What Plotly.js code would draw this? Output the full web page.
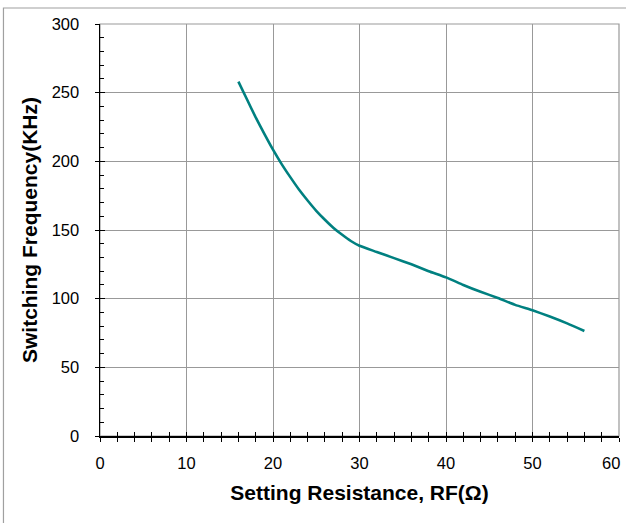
<!DOCTYPE html>
<html>
<head>
<meta charset="utf-8">
<script src="https://cdn.plot.ly/plotly-3.0.1.min.js"></script>
<style>
html,body{margin:0;padding:0;background:#fff;}
#chart{width:626px;height:523px;}
</style>
</head>
<body>
<div id="chart"></div>
<script>
// Setting resistance RF (ohm)
const resistance = [16, 17, 18, 19, 20, 21, 22, 23, 24, 25, 26, 27, 28, 29, 30, 32, 34, 36, 38, 40, 42, 44, 46, 48, 50, 52, 54, 56];
// Switching frequency (KHz)
const frequency = [258, 245, 232, 220, 208.5, 198, 188.5, 179.5, 171.5, 164, 157.5, 151.5, 146.5, 142, 138.5, 134, 129.5, 125, 120, 115.5, 110, 105, 100.5, 95.5, 91.5, 87, 82, 76.5];

// x tick positions and labels
const xTickVals = [0, 10, 20, 30, 40, 50, 60];
const xTickText = ['0', '10', '20', '30', '40', '50', '60'];

const xTitle = 'Setting Resistance, RF(Ω)';
const yTitle = 'Switching Frequency(KHz)';

const font = '"Liberation Sans", Arial, sans-serif';

// the last x label sits at the right edge; it is drawn right-aligned to its tick so it stays inside the picture
const lastIdx = xTickVals.length - 1;
const axisTickText = xTickText.map((t, i) => (i === lastIdx ? '' : t));

const traces = [
  {
    x: resistance, y: frequency, type: 'scatter', mode: 'lines',
    line: {color: '#008080', width: 2.6, shape: 'spline', smoothing: 0.5},
    hoverinfo: 'skip', showlegend: false
  },
  {
    x: [], y: [], xaxis: 'x2', yaxis: 'y2', type: 'scatter', mode: 'lines',
    showlegend: false, hoverinfo: 'skip'
  }
];

const layout = {
  width: 626, height: 523,
  margin: {l: 100, r: 7, t: 24, b: 87},
  paper_bgcolor: '#ffffff', plot_bgcolor: '#ffffff',
  font: {family: font, color: '#000'},
  showlegend: false,
  xaxis: {
    range: [0, 60], tickmode: 'array', tickvals: xTickVals, ticktext: axisTickText,
    showgrid: true, gridcolor: '#999999', gridwidth: 1,
    zeroline: false,
    showline: true, linecolor: '#000', linewidth: 1.5,
    ticks: 'outside', ticklen: 4, tickwidth: 1, tickcolor: '#000',
    minor: {ticks: 'outside', ticklen: 4, tickwidth: 1, tickcolor: '#000', dtick: 2, tick0: 0, showgrid: false},
    tickfont: {size: 16.5, family: font, color: '#000'},
    ticklabelstandoff: 8,
    title: {text: xTitle, font: {size: 21, family: font, color: '#000', weight: 'bold'}, standoff: 14},
    fixedrange: true
  },
  yaxis: {
    range: [0, 300], dtick: 50, tick0: 0,
    showgrid: true, gridcolor: '#999999', gridwidth: 1,
    zeroline: false,
    showline: true, linecolor: '#000', linewidth: 1.5,
    ticks: 'outside', ticklen: 4, tickwidth: 1, tickcolor: '#000',
    tickfont: {size: 16.5, family: font, color: '#000'},
    ticklabelstandoff: 12,
    ticklabeloverflow: 'allow',
    title: {text: yTitle, font: {size: 21, family: font, color: '#000', weight: 'bold'}, standoff: 8},
    fixedrange: true
  },
  xaxis2: {
    overlaying: 'x', anchor: 'y2', side: 'bottom',
    range: [0, 60], dtick: 10, tick0: 0,
    showgrid: false, zeroline: false, showline: false,
    ticks: 'inside', ticklen: 4, tickwidth: 1, tickcolor: '#000',
    minor: {ticks: 'inside', ticklen: 4, tickwidth: 1, tickcolor: '#000', dtick: 2, showgrid: false},
    showticklabels: false, fixedrange: true
  },
  yaxis2: {
    overlaying: 'y', anchor: 'x2', side: 'left',
    range: [0, 300], dtick: 50, tick0: 0,
    showgrid: false, zeroline: false, showline: false,
    ticks: 'inside', ticklen: 5, tickwidth: 1, tickcolor: '#000',
    minor: {ticks: 'inside', ticklen: 4, tickwidth: 1, tickcolor: '#000', dtick: 10, showgrid: false},
    showticklabels: false, fixedrange: true
  },
  annotations: [
    {text: xTickText[lastIdx], x: xTickVals[lastIdx], xref: 'x', y: 0, yref: 'y',
     xanchor: 'right', yanchor: 'middle', xshift: 3, yshift: -27, showarrow: false,
     font: {size: 16.5, family: font, color: '#000'}}
  ],
  shapes: [
    {type: 'rect', xref: 'paper', yref: 'paper', x0: 0, x1: 1, y0: 0, y1: 1,
     line: {color: '#999999', width: 1.2}, layer: 'below'},
    {type: 'rect', xref: 'paper', yref: 'paper', x0: -0.186, x1: 1.2, y0: -0.3, y1: 1.0388,
     line: {color: '#a0a0a0', width: 1.2}, layer: 'below'}
  ]
};

Plotly.newPlot('chart', traces, layout, {displayModeBar: false, staticPlot: true});
</script>
</body>
</html>
